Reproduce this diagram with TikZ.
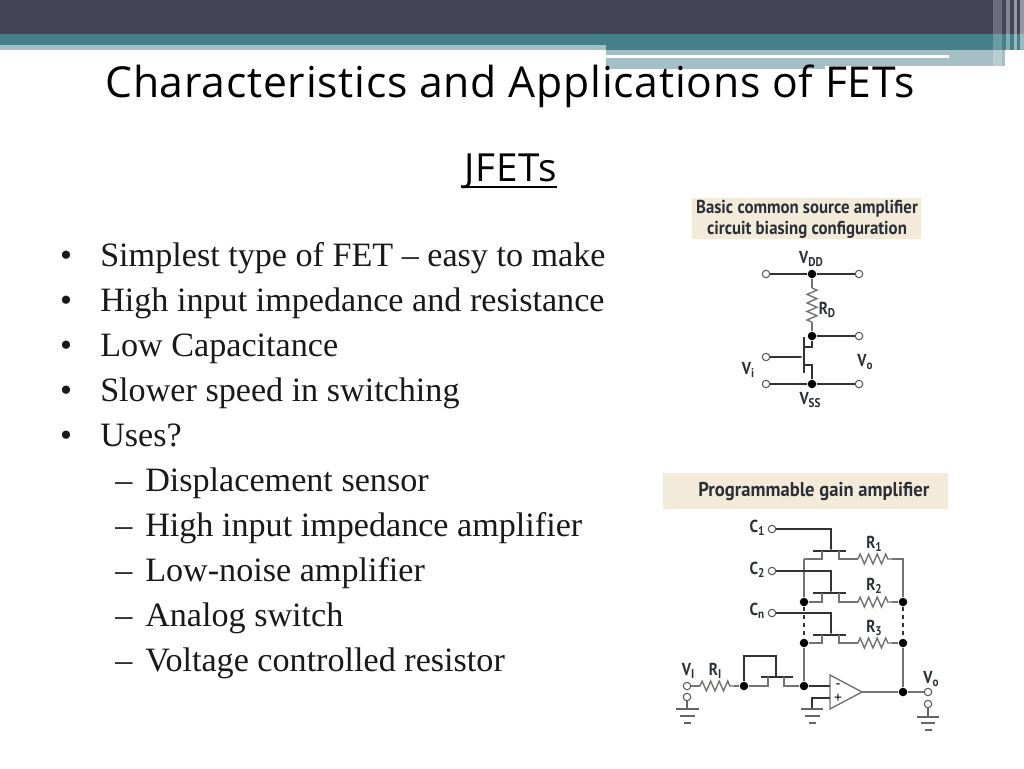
\documentclass[tikz,border=0pt]{standalone}
\usepackage{fontspec}
\usepackage{graphicx}
\setmainfont{Liberation Serif}
\newfontfamily\headfont[LetterSpace=1.8]{Open Sans}
\newfontfamily\labelfont{PT Sans}
\usetikzlibrary{calc,decorations.pathmorphing,arrows.meta}
\definecolor{slatebar}{HTML}{444559}
\definecolor{tealbar}{HTML}{45808A}
\definecolor{palebar}{HTML}{A5C0C5}
\definecolor{bannerbg}{HTML}{F3EADA}
\definecolor{labelink}{HTML}{2B2F38}
\newcommand{\clabel}[2]{\scalebox{.88}[1]{\labelfont\bfseries #1\raisebox{-2.5pt}{\fontsize{9.5}{10}\selectfont #2}}}
\tikzset{
	bodyline/.style={anchor=base west,inner sep=0pt,font=\fontsize{25.6}{28}\selectfont,text=black!90},
	bulletmark/.style={anchor=base,inner sep=0pt,font=\fontsize{25.6}{28}\selectfont,text=black!90},
	cktlabel/.style={inner sep=0pt,text=labelink,font=\fontsize{13}{14}\selectfont},
	banner/.style={fill=bannerbg,inner sep=0pt,text=labelink},
	wire/.style={draw=black!80,line width=1pt},
	greywire/.style={draw=black!55,line width=1.05pt},
	res/.style={decorate,decoration={zigzag,segment length=6.4pt,amplitude=3.7pt}},
	term/.style={circle,draw=black!65,fill=white,line width=0.8pt,inner sep=0pt,minimum size=5.6pt},
	junc/.style={circle,fill=black,inner sep=0pt,minimum size=6.4pt},
	gnd/.style={draw=black!60,line width=0.9pt},
	gatetip/.style={-{Latex[length=2.5pt,width=2pt]}},
}
\begin{document}
\begin{tikzpicture}[x=0.75pt,y=-0.75pt]
	\useasboundingbox (0,0) rectangle (1024,768);
	% header bars
	\fill[slatebar] (0,0) rectangle (1024,34);
	\fill[tealbar] (0,34) rectangle (1024,50);
	\fill[palebar] (0,45) rectangle (606,50);
	\fill[palebar] (606,50) rectangle (1005,66);
	\fill[palebar] (606,66) rectangle (825,69);
	\fill[white] (606,55) rectangle (949,58);
	\fill[white,opacity=0.22] (993,0) rectangle (1002,68);
	\fill[white,opacity=0.35] (1006,0) rectangle (1010,68);
	\fill[white,opacity=0.45] (1014,0) rectangle (1017,68);
	\fill[white,opacity=0.45] (1020,0) rectangle (1024,68);
%
	\node[inner sep=0pt,anchor=base,font=\headfont\fontsize{32}{36}\selectfont] (title) at (510,97) {Characteristics and Applications of FETs};
	\node[inner sep=0pt,anchor=base,font=\headfont\fontsize{29}{32}\selectfont] (jfets) at (511,181) {JFETs};
	\draw[line width=1.5pt] ($(jfets.base west)+(0,6)$) -- ($(jfets.base east)+(0,6)$);
%
	\node[bulletmark] (b1) at (66,266) {•};
	\node[bulletmark] (b2) at (66,311) {•};
	\node[bulletmark] (b3) at (66,356) {•};
	\node[bulletmark] (b4) at (66,401) {•};
	\node[bulletmark] (b5) at (66,446) {•};
	\node[bodyline] (l1) at (100,266) {Simplest type of FET – easy to make};
	\node[bodyline] (l2) at (100,311) {High input impedance and resistance};
	\node[bodyline] (l3) at (100,356) {Low Capacitance};
	\node[bodyline] (l4) at (100,401) {Slower speed in switching};
	\node[bodyline] (l5) at (100,446) {Uses?};
	\node[bulletmark] (d1) at (124,491) {–};
	\node[bulletmark] (d2) at (124,536) {–};
	\node[bulletmark] (d3) at (124,581) {–};
	\node[bulletmark] (d4) at (124,626) {–};
	\node[bulletmark] (d5) at (124,671) {–};
	\node[bodyline] (s1) at (145,491) {Displacement sensor};
	\node[bodyline] (s2) at (145,536) {High input impedance amplifier};
	\node[bodyline] (s3) at (145,581) {Low-noise amplifier};
	\node[bodyline] (s4) at (145,626) {Analog switch};
	\node[bodyline] (s5) at (145,671) {Voltage controlled resistor};
%
	% common source circuit
	\node[banner,minimum width=172pt,minimum height=31pt] (banA) at (806.5,218.5) {};
	\node[inner sep=0pt,text=labelink] (banAtext) at (807,220) {\scalebox{.9}[1]{\labelfont\bfseries\fontsize{14}{15.5}\selectfont\begin{tabular}{@{}c@{}}Basic common source amplifier\\circuit biasing configuration\end{tabular}}};
	\node[term] (VddL) at (766,274) {};
	\node[junc] (Vdd) at (812,274) {};
	\node[term] (VddR) at (859,274) {};
	\node[junc] (Drn) at (812,336) {};
	\node[term] (OutT) at (859,336) {};
	\node[term] (GateT) at (766,357) {};
	\node[term] (SsL) at (766,384) {};
	\node[junc] (Vss) at (812,384) {};
	\node[term] (SsR) at (859,384) {};
	\coordinate (RDa) at (812,288);
	\coordinate (RDb) at (812,323);
	\coordinate (Chtop) at (804,337);
	\coordinate (Chbot) at (804,373);
	\coordinate (Chdrn) at (804,347);
	\coordinate (Chsrc) at (804,365);
	\coordinate (Chgate) at (803,357);
	\draw[wire] (VddL) -- (Vdd) -- (VddR);
	\draw[wire] (Drn) -- (OutT);
	\draw[wire] (SsL) -- (Vss) -- (SsR);
	\draw[greywire] (Vdd) -- (RDa);
	\draw[greywire,res] (RDa) -- (RDb);
	\draw[greywire] (RDb) -- (Drn);
	\draw[wire] (Chtop) -- (Chbot);
	\draw[wire] (Drn) |- (Chdrn);
	\draw[wire] (Vss) |- (Chsrc);
	\draw[wire,gatetip] (GateT) -- (Chgate);
	\node[cktlabel] (lVdd) at (811,259) {\clabel{V}{DD}};
	\node[cktlabel] (lRd) at (827,310) {\clabel{R}{D}};
	\node[cktlabel] (lVi) at (748,370) {\clabel{V}{i}};
	\node[cktlabel] (lVo) at (865,362) {\clabel{V}{o}};
	\node[cktlabel] (lVss) at (810,400) {\clabel{V}{SS}};
%
	% programmable gain circuit
	\node[banner,minimum width=213.75pt,minimum height=27pt] (banB) at (805.5,491) {};
	\node[inner sep=0pt,text=labelink,anchor=west] (banBtext) at (698,492) {\scalebox{.93}[1]{\labelfont\bfseries\fontsize{15}{17}\selectfont Programmable gain amplifier}};
	\node[term] (C1t) at (772,529) {};
	\node[term] (C2t) at (772,571) {};
	\node[term] (Cnt) at (772,613) {};
	\node[junc] (Ja) at (804,602) {};
	\node[junc] (Jb) at (903,602) {};
	\node[junc] (Jc) at (804,643) {};
	\node[junc] (Jd) at (903,643) {};
	\node[junc] (Je) at (804,686) {};
	\node[junc] (Jf) at (744,686) {};
	\node[junc] (Jg) at (903,692) {};
	\node[term] (ViT) at (687,686) {};
	\node[term] (ViG) at (687,697) {};
	\node[term] (VoT) at (928,692) {};
	\node[term] (VoG) at (928,704) {};
	\coordinate (Q1g) at (831,551);
	\coordinate (Q1a) at (822,559);
	\coordinate (Q1b) at (839,559);
	\coordinate (Q1c) at (804,559);
	\coordinate (R1a) at (858,559);
	\coordinate (R1b) at (892,559);
	\coordinate (R1c) at (903,559);
	\draw[wire,gatetip] (C1t) -| (Q1g);
	\draw[wire] (813,551) -- (846,551);
	\draw[greywire] (Q1c) -- (Q1a) -- (822,551);
	\draw[greywire] (839,551) -- (Q1b) -- (R1a);
	\draw[greywire,res] (R1a) -- (R1b);
	\draw[greywire] (R1b) -- (R1c) -- (Jb);
	\draw[greywire] (Q1c) -- (Ja);
	\coordinate (Q2g) at (831,593);
	\coordinate (R2a) at (858,602);
	\coordinate (R2b) at (892,602);
	\draw[wire,gatetip] (C2t) -| (Q2g);
	\draw[wire] (813,593) -- (846,593);
	\draw[greywire] (Ja) -| (822,593);
	\draw[greywire] (839,593) |- (R2a);
	\draw[greywire,res] (R2a) -- (R2b);
	\draw[greywire] (R2b) -- (Jb);
	\draw[wire,dashed] (Ja) -- (Jc);
	\draw[wire,dashed] (Jb) -- (Jd);
	\coordinate (Q3g) at (831,635);
	\coordinate (R3a) at (858,643);
	\coordinate (R3b) at (892,643);
	\draw[wire,gatetip] (Cnt) -| (Q3g);
	\draw[wire] (813,635) -- (846,635);
	\draw[greywire] (Jc) -| (822,635);
	\draw[greywire] (839,635) |- (R3a);
	\draw[greywire,res] (R3a) -- (R3b);
	\draw[greywire] (R3b) -- (Jd);
	\draw[greywire] (Jc) -- (Je);
	\draw[greywire] (Jd) -- (Jg);
	% input stage
	\coordinate (Ria) at (700,686);
	\coordinate (Rib) at (734,686);
	\coordinate (Q4g) at (776,677);
	\draw[greywire] (ViT) -- (Ria);
	\draw[greywire,res] (Ria) -- (Rib);
	\draw[greywire] (Rib) -- (Jf);
	\draw[wire] (Jf) |- (776,656) -- (Q4g);
	\draw[wire] (761,677) -- (793,677);
	\draw[greywire] (Jf) -| (768,677);
	\draw[greywire] (Je) -| (784,677);
	% op amp
	\coordinate (Opa) at (830,675);
	\coordinate (Opb) at (830,709);
	\coordinate (Opc) at (862,692);
	\coordinate (Inm) at (830,686);
	\coordinate (Inp) at (830,698);
	\draw[greywire] (Opa) -- (Opb) -- (Opc) -- cycle;
	\draw[wire] (Je) -- (Inm);
	\draw[greywire] (Opc) -- (Jg) -- (VoT);
	\draw[wire] (Inp) -| (812,709);
	\node[inner sep=0pt,font=\bfseries\fontsize{10}{10}\selectfont] (opm) at (838,686) {-};
	\node[inner sep=0pt,font=\bfseries\fontsize{11}{11}\selectfont] (opp) at (838,698) {+};
	% grounds
	\draw[gnd] (ViG) -- (687,709);
	\draw[gnd] (676,709) -- (699,709) (680,716) -- (695,716) (684,723) -- (691,723);
	\draw[gnd] (801,709) -- (823,709) (805,716) -- (820,716) (809,723) -- (816,723);
	\draw[gnd] (VoG) -- (928,717);
	\draw[gnd] (917,717) -- (939,717) (921,723) -- (935,723) (925,730) -- (932,730);
	\node[cktlabel] (lC1) at (757,528) {\clabel{C}{1}};
	\node[cktlabel] (lC2) at (757,570) {\clabel{C}{2}};
	\node[cktlabel] (lCn) at (757,611) {\clabel{C}{n}};
	\node[cktlabel] (lR1) at (874,544) {\clabel{R}{1}};
	\node[cktlabel] (lR2) at (874,586) {\clabel{R}{2}};
	\node[cktlabel] (lR3) at (874,628) {\clabel{R}{3}};
	\node[cktlabel] (lVin) at (688,671) {\clabel{V}{I}};
	\node[cktlabel] (lRi) at (715,671) {\clabel{R}{I}};
	\node[cktlabel] (lVout) at (931,679) {\clabel{V}{o}};
\end{tikzpicture}
\end{document}
